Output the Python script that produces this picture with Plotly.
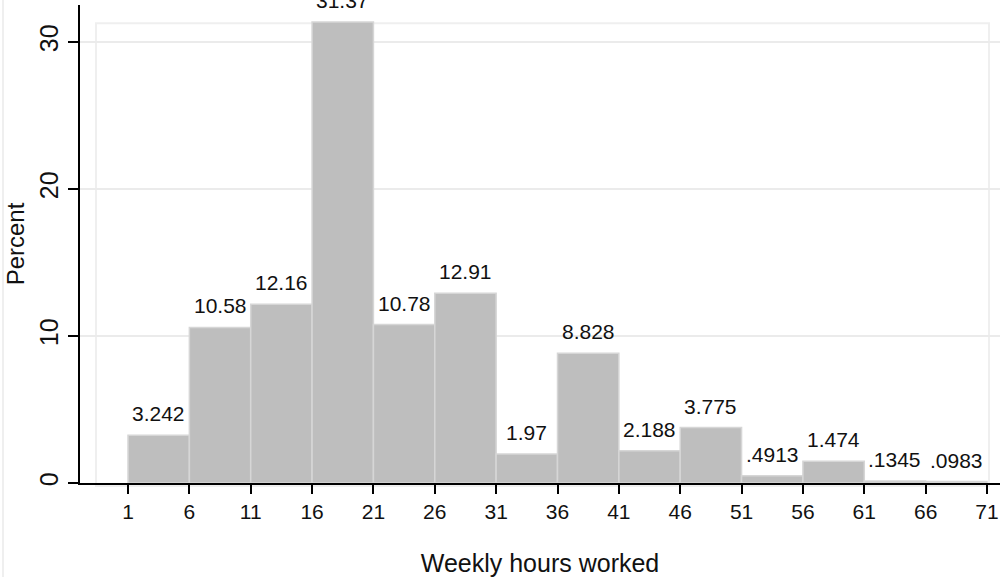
import plotly.graph_objects as go

bin_starts = [1, 6, 11, 16, 21, 26, 31, 36, 41, 46, 51, 56, 61, 66]
bin_width = 5
percents = [3.242, 10.58, 12.16, 31.37, 10.78, 12.91, 1.97, 8.828,
            2.188, 3.775, 0.4913, 1.474, 0.1345, 0.0983]
x_ticks = [1, 6, 11, 16, 21, 26, 31, 36, 41, 46, 51, 56, 61, 66, 71]
y_ticks = [0, 10, 20, 30]


def stata_fmt(v):
    s = f"{v:.4g}"
    if s.startswith("0."):
        s = s[1:]
    return s


centers = [s + bin_width / 2 for s in bin_starts]
labels = [stata_fmt(v) for v in percents]

FONT = "Liberation Sans, Arial, sans-serif"

fig = go.Figure()
fig.add_trace(go.Bar(
    x=centers, y=percents, width=[bin_width] * len(centers),
    marker=dict(color="#bebebe", line=dict(color="#d6d6d6", width=1.5)),
    hoverinfo="skip",
))

for xc, v, lab in zip(centers, percents, labels):
    fig.add_annotation(x=xc, y=v, text=lab, showarrow=False,
                       xanchor="center", yanchor="bottom", yshift=8,
                       font=dict(family=FONT, size=21, color="#111"))

# light inner plot-region frame and outer graph-region edge
fig.add_shape(type="rect", xref="paper", yref="paper",
              x0=0.0174, x1=0.988, y0=-0.0063, y1=0.962,
              line=dict(color="#efefef", width=2), layer="below")
fig.add_shape(type="line", xref="paper", yref="paper",
              x0=-0.0837, x1=-0.0837, y0=-0.2, y1=1.02,
              line=dict(color="#efefef", width=2), layer="below")
# x-axis line extends slightly left of the y axis
fig.add_shape(type="line", xref="paper", yref="y",
              x0=-0.0109, x1=0, y0=0, y1=0,
              line=dict(color="black", width=2))

fig.update_layout(
    width=1000, height=577,
    margin=dict(l=80, r=0, t=5, b=94, autoexpand=False),
    plot_bgcolor="white", paper_bgcolor="white",
    showlegend=False, bargap=0,
    font=dict(family=FONT, color="#111"),
    xaxis=dict(
        range=[-2.912, 72.06], tickmode="array", tickvals=x_ticks,
        ticktext=[str(t) for t in x_ticks],
        showline=True, linecolor="black", linewidth=2,
        ticks="outside", ticklen=9, tickwidth=2, tickcolor="black",
        showgrid=False, zeroline=False,
        tickfont=dict(size=21, family=FONT, color="#111"),
        title=dict(text="Weekly hours worked", standoff=35,
                   font=dict(size=25, family=FONT, color="#111")),
    ),
    yaxis=dict(
        range=[0, 32.52], tickmode="array", tickvals=y_ticks,
        showline=True, linecolor="black", linewidth=2,
        ticks="outside", ticklen=10, tickwidth=2, tickcolor="black",
        showgrid=True, gridcolor="#ebebeb", gridwidth=2,
        zeroline=False, tickangle=-90,
        tickfont=dict(size=25, family=FONT, color="#111"),
        title=dict(text="Percent", standoff=4,
                   font=dict(size=24, family=FONT, color="#111")),
    ),
)

fig.write_html("out.html",
               config={"displayModeBar": False, "staticPlot": True},
               post_script="document.body.style.margin='0px';"
                           "document.body.style.overflow='hidden';")
